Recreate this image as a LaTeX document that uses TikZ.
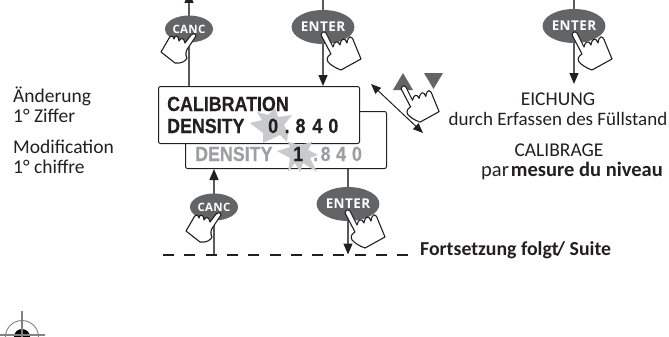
\documentclass[tikz,border=0pt]{standalone}
\usepackage{fontspec}
\setmainfont{Carlito}
\newfontfamily\lcdfont[FakeStretch=.87,BoldFeatures={FakeBold=0.4}]{Liberation Sans}
\newfontfamily\btnfont[LetterSpace=3]{Open Sans}
\usetikzlibrary{arrows.meta,backgrounds,shapes.geometric}
\definecolor{inkc}{HTML}{231F20}
\definecolor{linec}{HTML}{58595B}
\definecolor{btnc}{HTML}{636466}
\definecolor{starc}{HTML}{C9CACC}
\definecolor{dimc}{HTML}{9D9FA2}
\definecolor{regc}{HTML}{808285}
\tikzset{
  x=1pt,y=-1pt,
  hand/.pic={
    \filldraw[fill=white,draw=inkc,line width=1.1pt,line join=round]
      (-2,3) .. controls (-1,-1) and (2,-1) .. (3,1) -- (10,15)
      .. controls (11,9) and (15,8) .. (17,13)
      .. controls (18,6) and (22,5) .. (24,11)
      .. controls (25,3) and (29,3) .. (31,10) -- (38,27) -- (18,38)
      .. controls (12,36) and (8,33) .. (5,30)
      .. controls (3,26) and (5,24) .. (8,22) -- cycle;
  },
  handleft/.pic={
    \filldraw[fill=white,draw=inkc,line width=1.1pt,line join=round]
      (2,1) .. controls (2,-2) and (-2,-2) .. (-3,0) -- (-9,8)
      .. controls (-10,3) and (-13,2) .. (-15,6)
      .. controls (-15,1) and (-19,-1) .. (-20,4)
      .. controls (-21,0) and (-24,0) .. (-26,5) -- (-33,17) -- (-19,28)
      .. controls (-13,29) and (-8,26) .. (-7,23)
      .. controls (-9,20) and (-8,15) .. (-6,13) -- cycle;
  },
  canc/.style={ellipse,fill=btnc,minimum width=48pt,minimum height=27pt,inner sep=0pt,text=white,font=\btnfont\bfseries\fontsize{11.5}{12}\selectfont},
  enter/.style={ellipse,fill=btnc,minimum width=60pt,minimum height=34pt,inner sep=0pt,text=white,font=\btnfont\bfseries\fontsize{13.5}{14}\selectfont},
  lcdbox/.style={draw=inkc,fill=white,line width=1pt,rounded corners=2pt,inner sep=0pt,anchor=north west},
  lcd/.style={anchor=base west,inner sep=0pt,text=inkc,font=\lcdfont\bfseries\fontsize{20.5}{20.5}\selectfont},
  lcddim/.style={lcd,text=dimc},
  wire/.style={draw=linec,line width=1.3pt},
  tipped/.style={wire,-{Triangle[width=9pt,length=11pt,color=inkc]}},
  caption/.style={anchor=base,inner sep=0pt,text=inkc,font=\fontsize{19.5}{19.5}\selectfont},
  captionl/.style={caption,anchor=base west},
}
\begin{document}
\begin{tikzpicture}
\useasboundingbox (0,0) rectangle (669,337);
% displays
\node[lcdbox,minimum width=201pt,minimum height=57pt] (box2) at (185,111) {};
\node[lcdbox,minimum width=201pt,minimum height=57pt] (box1) at (158,86) {};
% bursts
\fill[starc] (250,123) -- (262,120) -- (257,112) -- (268,115) -- (275,108) -- (278,117) -- (292,115) -- (284,125) -- (288,133) -- (287,142) -- (280,135) -- (263,143) -- (263,133) -- cycle;
\fill[starc] (277,151) -- (290,147) -- (288,142) -- (300,145) -- (312,142) -- (308,150) -- (318,155) -- (310,158) -- (317,172) -- (303,163) -- (300,172) -- (295,163) -- (288,172) -- (290,158) -- cycle;
% display text
\node[lcd] (t1) at (167,111) {CALIBRATION};
\node[lcd] (t2) at (167,133) {DENSITY};
\node[lcd] (t3) at (268,133) {0\hspace{6.5pt}.\hspace{6pt}8\hspace{7pt}4\hspace{6pt}0};
\node[lcddim] (t4) at (195,161) {DENSITY};
\node[lcd] (t5) at (293,161) {1};
\node[lcddim] (t6) at (313,161) {.\hspace{2.5pt}8\hspace{5.5pt}4\hspace{6pt}0};
% buttons
\node[canc] (canc1) at (189,29) {CANC};
\node[enter] (enter1) at (323,27) {ENTER};
\node[enter] (enter2) at (574,26) {ENTER};
\node[canc] (canc2) at (214,207) {CANC};
\node[enter] (enter3) at (348,204) {ENTER};
\coordinate (top1) at (189,-8);
\coordinate (top2) at (323,-3);
\coordinate (top3) at (574,-3);
\coordinate (tip3) at (574,84);
\coordinate (dashL) at (163,254.5);
\coordinate (dashR) at (408,254.5);
\coordinate (dblA) at (371,84);
\coordinate (dblB) at (423,133);
\begin{pgfonlayer}{background}
\draw[tipped] (box1.north -| canc1) -- (top1);
\draw[tipped] (top2) -- (box1.north -| enter1);
\draw[tipped] (top3) -- (tip3);
\draw[tipped] (dashL -| canc2) -- (box2.south -| canc2);
\draw[tipped] (box2.south -| enter3) -- (dashL -| enter3);
\end{pgfonlayer}
\draw[draw=inkc,line width=2pt,dash pattern=on 11pt off 10.3pt] (dashL) -- (dashR);
\draw[draw=inkc,line width=1pt,{Triangle[width=8pt,length=10pt]}-{Triangle[width=8pt,length=10pt]}] (dblA) -- (dblB);
% arrow keys
\fill[btnc] (393,90) -- (403,73) -- (413,90) -- cycle;
\fill[btnc] (424,73) -- (443,73) -- (433.5,89) -- cycle;
% hands
\pic at (323,32) {hand};
\pic at (574,32) {hand};
\pic at (347,210) {hand};
\pic[scale=.95] at (403,86) {hand};
\pic at (194,35) {handleft};
\pic at (219,214) {handleft};
% captions
\node[captionl] (l1) at (13,102) {Änderung};
\node[captionl] (l2) at (13,122) {1° Ziffer};
\node[captionl] (l3) at (13,153) {Modification};
\node[captionl] (l4) at (13,173) {1° chiffre};
\node[caption] (r1) at (558,105) {EICHUNG};
\node[caption,font=\fontsize{19}{19}\selectfont] (r2) at (558,125) {durch Erfassen des Füllstand};
\node[caption] (r3) at (559,156) {CALIBRAGE};
\node[caption,font=\fontsize{20.5}{20.5}\selectfont] (r4) at (572,176) {par\hspace{2pt}\textbf{mesure du niveau}};
\node[captionl,font=\bfseries\fontsize{19.8}{19.8}\selectfont] (s1) at (420,255) {Fortsetzung folgt\hspace{-2pt}/ Suite};
% registration mark
\fill[black] (14,337) arc (180:360:8) -- cycle;
\draw[regc,line width=.9pt] (5.5,337) arc (180:360:16.5);
\draw[regc,line width=1.1pt] (0,335) -- (45,335);
\draw[regc,line width=1.1pt] (22,311) -- (22,337);
\end{tikzpicture}
\end{document}
